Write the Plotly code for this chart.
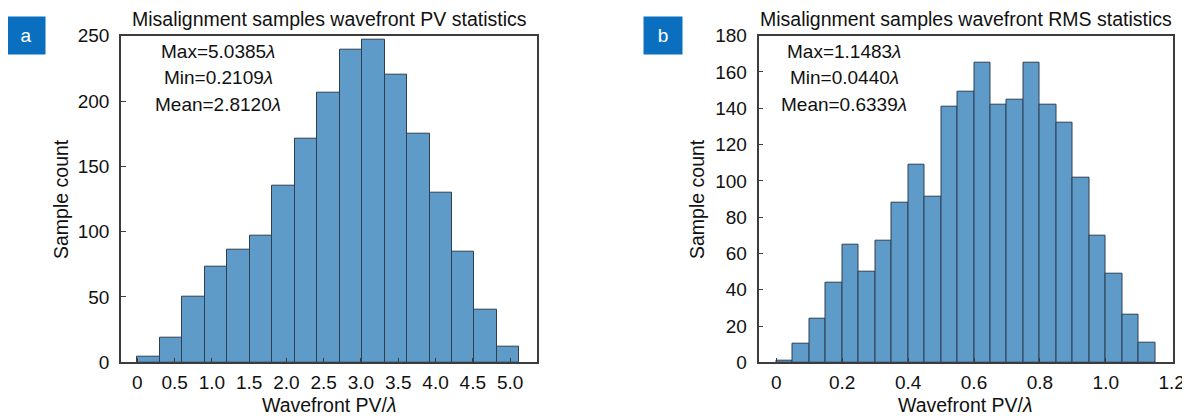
import numpy as np
import plotly.graph_objects as go

# ---------------- data ----------------
pv_counts = [4, 19, 50, 73, 86, 97, 135, 171, 206, 239, 247, 220, 175, 130, 85, 40, 12]
pv_bin_start = 0.0
pv_bin_width = 0.3015

rms_counts = [1, 10, 24, 44, 65, 50, 67, 88, 109, 91, 141, 149, 165, 142, 145, 165, 142, 132, 102, 70, 49, 26, 11]
rms_bin_start = 0.0
rms_bin_width = 0.05

pv_xticks = [0, 0.5, 1.0, 1.5, 2.0, 2.5, 3.0, 3.5, 4.0, 4.5, 5.0]
pv_xticklabels = ["0", "0.5", "1.0", "1.5", "2.0", "2.5", "3.0", "3.5", "4.0", "4.5", "5.0"]
pv_yticks = [0, 50, 100, 150, 200, 250]

rms_xticks = [0, 0.2, 0.4, 0.6, 0.8, 1.0, 1.2]
rms_xticklabels = ["0", "0.2", "0.4", "0.6", "0.8", "1.0", "1.2"]
rms_yticks = [0, 20, 40, 60, 80, 100, 120, 140, 160, 180]

title_a = "Misalignment samples wavefront PV statistics"
title_b = "Misalignment samples wavefront RMS statistics"
stats_a = ["Max=5.0385<i>λ</i>", "Min=0.2109<i>λ</i>", "Mean=2.8120<i>λ</i>"]
stats_b = ["Max=1.1483<i>λ</i>", "Min=0.0440<i>λ</i>", "Mean=0.6339<i>λ</i>"]
xlabel = "Wavefront PV/<i>λ</i>"
ylabel = "Sample count"

# ---------------- style ----------------
OFF = 8  # page body margin in the browser
W, H = 1190 - OFF, 416 - OFF
FONT = "Liberation Sans, Arial, sans-serif"
BAR = "#5e9bc8"
EDGE = "#2f3f52"
AX = "#3c3c3c"
BLUE = "#0b6fc0"

def px_x(p):
    return (p - OFF) / W

def px_y(p):
    return (H - (p - OFF)) / H

pv_centers = pv_bin_start + (np.arange(len(pv_counts)) + 0.5) * pv_bin_width
rms_centers = rms_bin_start + (np.arange(len(rms_counts)) + 0.5) * rms_bin_width

fig = go.Figure()
fig.add_trace(go.Bar(x=pv_centers, y=pv_counts, width=pv_bin_width,
                     marker=dict(color=BAR, line=dict(color=EDGE, width=1)),
                     xaxis="x", yaxis="y", showlegend=False))
fig.add_trace(go.Bar(x=rms_centers, y=rms_counts, width=rms_bin_width,
                     marker=dict(color=BAR, line=dict(color=EDGE, width=1)),
                     xaxis="x2", yaxis="y2", showlegend=False))

ydom = [px_y(362.3), px_y(35.7)]
common_axis = dict(showline=True, linecolor=AX, linewidth=1.5, mirror=True,
                   ticks="inside", ticklen=5, tickcolor=AX, tickwidth=1.2,
                   showgrid=False, zeroline=False, automargin=False,
                   tickfont=dict(family=FONT, size=19, color="#111"))

fig.update_layout(
    template="none",
    width=W, height=H, autosize=False,
    margin=dict(l=0, r=0, t=0, b=0, pad=0),
    paper_bgcolor="white", plot_bgcolor="white",
    showlegend=False,
    bargap=0,
    xaxis=dict(domain=[px_x(121), px_x(536.7)], range=[-0.219, 5.357],
               tickvals=pv_xticks, ticktext=pv_xticklabels, anchor="y",
               ticklabelstandoff=2, **common_axis),
    yaxis=dict(domain=ydom, range=[0, 250], tickvals=pv_yticks, anchor="x",
               ticklabelstandoff=6, **common_axis),
    xaxis2=dict(domain=[px_x(758.5), px_x(1172.7)], range=[-0.054, 1.203],
                tickvals=rms_xticks, ticktext=rms_xticklabels, anchor="y2",
                ticklabelstandoff=2, **common_axis),
    yaxis2=dict(domain=ydom, range=[0, 180], tickvals=rms_yticks, anchor="x2",
                ticklabelstandoff=6, **common_axis),
)

anns = []
txt = dict(family=FONT, size=19.5, color="#111")
# titles
for cx, t in [(329, title_a), (965.6, title_b)]:
    anns.append(dict(x=px_x(cx), y=px_y(18.5), xref="paper", yref="paper",
                     text=t, showarrow=False, xanchor="center", yanchor="middle", font=txt))
# stats
for cx, lines in [(218.3, stats_a), (844, stats_b)]:
    for i, s in enumerate(lines):
        anns.append(dict(x=px_x(cx), y=px_y(51.7 + 26.2 * i), xref="paper", yref="paper",
                         text=s, showarrow=False, xanchor="center", yanchor="middle",
                         font=dict(family=FONT, size=19, color="#111")))
# axis titles
for cx in [329, 965.6]:
    anns.append(dict(x=px_x(cx), y=px_y(405), xref="paper", yref="paper",
                     text=xlabel, showarrow=False, xanchor="center", yanchor="middle", font=txt))
for cx in [61, 697]:
    anns.append(dict(x=px_x(cx), y=px_y(199), xref="paper", yref="paper",
                     text=ylabel, showarrow=False, textangle=-90,
                     xanchor="center", yanchor="middle", font=txt))
# panel letters
for cx, letter in [(26, "a"), (663, "b")]:
    anns.append(dict(x=px_x(cx), y=px_y(35.8), xref="paper", yref="paper",
                     text=letter, showarrow=False, xanchor="center", yanchor="middle",
                     width=34, height=33, bgcolor=BLUE, borderpad=2,
                     font=dict(family=FONT, size=19, color="white")))
fig.update_layout(annotations=anns)

fig.write_html("out.html")
